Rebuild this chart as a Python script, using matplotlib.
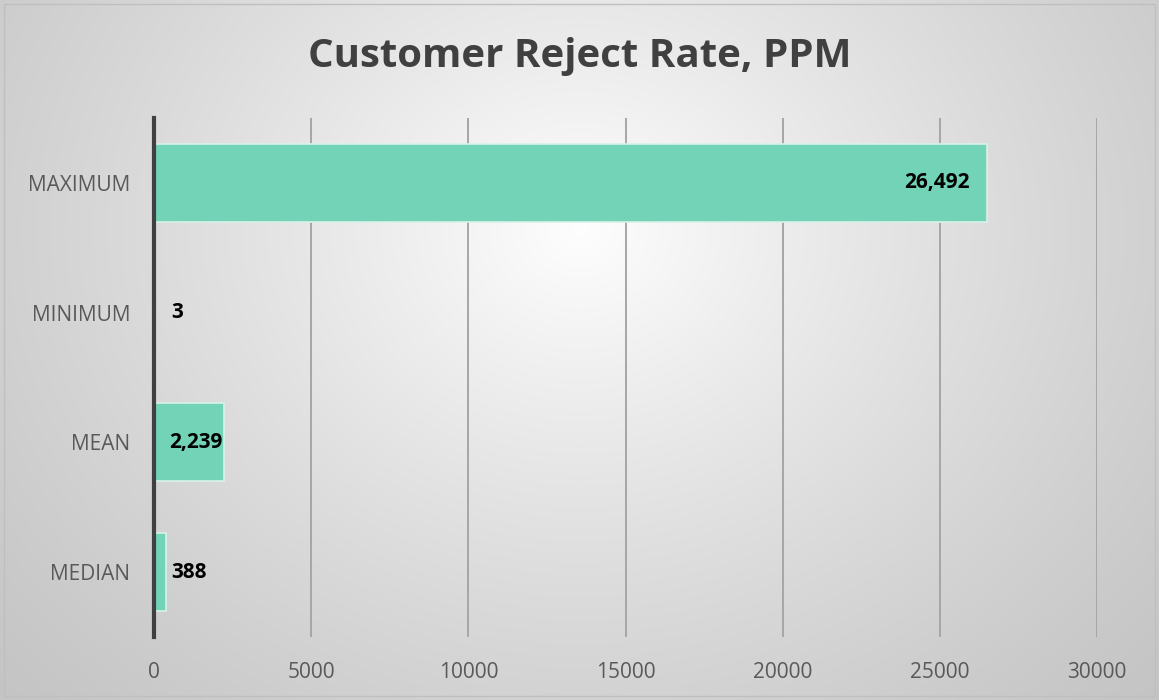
import numpy as np
import matplotlib
matplotlib.use("Agg")
import matplotlib.pyplot as plt
from matplotlib.patches import Rectangle

categories = ["MAXIMUM", "MINIMUM", "MEAN", "MEDIAN"]
values = [26492, 3, 2239, 388]
xticks = [0, 5000, 10000, 15000, 20000, 25000, 30000]
title = "Customer Reject Rate, PPM"

plt.rcParams['font.family'] = ['Open Sans', 'DejaVu Sans']

W, H = 1159, 700
fig = plt.figure(figsize=(W / 100, H / 100), dpi=100)

# radial gradient background
bg = fig.add_axes([0, 0, 1, 1], zorder=-10)
yy, xx = np.mgrid[0:H, 0:W]
cx, cy = 580, 230
r = np.sqrt(((xx - cx) / 1.0) ** 2 + ((yy - cy) / 0.85) ** 2)
r = r / r.max()
lo, hi = 0.995, 0.77
g = hi + (lo - hi) * (1 - r) ** 1.2
g = np.clip(g, 0, 1)
img = np.dstack([g, g, g])
bg.imshow(img, extent=[0, W, H, 0], aspect='auto')
bg.add_patch(Rectangle((4, 4), W - 8, H - 8, fill=False, edgecolor='#bfbfbf', lw=1))
bg.set_xlim(0, W)
bg.set_ylim(H, 0)
bg.axis('off')

ax = fig.add_axes([154 / W, 1 - 637 / H, (1097 - 154) / W, (637 - 118) / H])
ax.patch.set_alpha(0)

y = np.arange(len(categories))
bars = ax.barh(y, values, height=0.6, color='#72D3B7', edgecolor='#d8f2ea', linewidth=1.2, zorder=2)
ax.set_ylim(len(categories) - 0.5, -0.5)
ax.set_xlim(0, 30000)
ax.set_xticks(xticks)
ax.set_xticklabels([str(t) for t in xticks])
ax.set_yticks(y)
ax.set_yticklabels(categories)
ax.grid(axis='x', color='#a6a6a6', lw=1.4, zorder=1)
ax.set_axisbelow(True)
for s in ['top', 'right', 'bottom']:
    ax.spines[s].set_visible(False)
ax.spines['left'].set_color('#404040')
ax.spines['left'].set_linewidth(3)
ax.spines['left'].set_zorder(3)
ax.tick_params(axis='both', length=0, labelsize=15, colors='#595959')
ax.tick_params(axis='y', pad=17)
ax.tick_params(axis='x', pad=18)

# label placement styles (inside end for long bars, outside end for short)
label_styles = [(-12, 'right'), (12, 'left'), (-1.5, 'right'), (3.5, 'left')]
for yi, v, (dx, ha) in zip(y, values, label_styles):
    ax.annotate(f"{v:,}", (v, yi), xytext=(dx, 0), textcoords='offset points',
                ha=ha, va='center', fontsize=15, fontweight='bold', color='black', zorder=4)

fig.text(0.5, 1 - 57 / H, title, ha='center', va='center', fontsize=29,
         fontweight='bold', color='#404040')

fig.savefig('out.png', dpi=100)
